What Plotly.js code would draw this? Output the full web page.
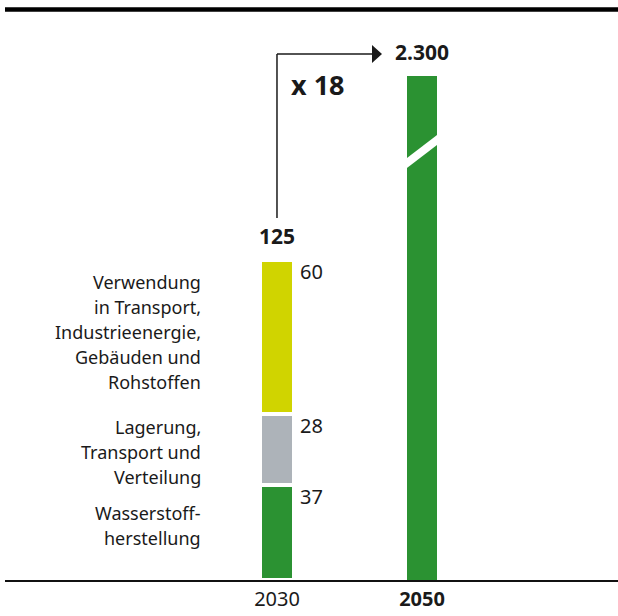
<!DOCTYPE html>
<html>
<head>
<meta charset="utf-8">
<script src="https://cdn.plot.ly/plotly-3.0.1.min.js"></script>
<style>html,body{margin:0;padding:0;background:#fff;}#chart{width:618px;height:616px;}</style>
</head>
<body>
<div id="chart"></div>
<script>
// ---- data ----
const years = ['2030', '2050'];
const tickLabels = ['2030', '<b>2050</b>'];
const segmentNames = [
  'Wasserstoff-<br>herstellung',
  'Lagerung,<br>Transport und<br>Verteilung',
  'Verwendung<br>in Transport,<br>Industrieenergie,<br>Gebäuden und<br>Rohstoffen'
];
const segment2030 = [37, 28, 60];
const segmentColors = ['#2b9232', '#adb3b9', '#d0d400'];
const total2050 = 2300;
const factorLabel = 'x 18';

// ---- style ----
const FONT = '"Noto Sans", Lato, sans-serif';
const TXT = '#1a1a1a';
const LINE_GAP = 25;              // px between label lines
const labelShift = [7, -2.5, 5];  // px vertical nudge of each label block

const fmtDE = v => String(v).replace(/\B(?=(\d{3})+(?!\d))/g, '.');
const total2030 = segment2030.reduce((a, b) => a + b, 0);
const i2030 = years.indexOf('2030');   // category serial numbers for annotations
const i2050 = years.indexOf('2050');

const traces = [];
const annotations = [];
let base = 0;
segment2030.forEach((v, i) => {
  traces.push({
    type: 'bar', x: [years[i2030]], y: [v], xaxis: 'x', yaxis: 'y',
    width: 0.2345,
    marker: { color: segmentColors[i], line: { color: '#ffffff', width: 4 } },
    hoverinfo: 'skip'
  });
  annotations.push({
    x: i2030, y: base + v, xref: 'x', yref: 'y',
    text: String(v), showarrow: false, xanchor: 'left', yanchor: 'top',
    xshift: 21, yshift: 4,
    font: { family: FONT, size: 20, color: TXT }
  });
  const lines = segmentNames[i].split('<br>');
  const n = lines.length;
  lines.forEach((ln, k) => {
    annotations.push({
      x: i2030, y: base + v / 2, xref: 'x', yref: 'y',
      text: ln, showarrow: false, xanchor: 'right', yanchor: 'middle',
      align: 'right', xshift: -74,
      yshift: labelShift[i] + ((n - 1) / 2 - k) * LINE_GAP,
      font: { family: FONT, size: 18, color: TXT }
    });
  });
  base += v;
});
// 2050 bar, drawn on lower and upper (broken) axis
['y', 'y2'].forEach(ax => {
  traces.push({
    type: 'bar', x: [years[i2050]], y: [total2050], xaxis: 'x', yaxis: ax,
    width: 0.2069,
    marker: { color: segmentColors[0], line: { width: 0 } },
    hoverinfo: 'skip'
  });
});

annotations.push({
  x: i2030, y: total2030, xref: 'x', yref: 'y',
  text: '<b>' + fmtDE(total2030) + '</b>', showarrow: false,
  xanchor: 'center', yanchor: 'bottom', yshift: 8,
  font: { family: FONT, size: 21, color: TXT }
});
annotations.push({
  x: i2050, y: total2050, xref: 'x', yref: 'y2',
  text: '<b>' + fmtDE(total2050) + '</b>', showarrow: false,
  xanchor: 'center', yanchor: 'bottom', yshift: 8,
  font: { family: FONT, size: 21, color: TXT }
});
annotations.push({
  x: 0.5106, y: 0.855, xref: 'paper', yref: 'paper',
  text: '<b>' + factorLabel + '</b>', showarrow: false,
  xanchor: 'center', yanchor: 'middle',
  font: { family: FONT, size: 27, color: TXT }
});

const shapes = [
  // top rule
  { type: 'line', xref: 'paper', yref: 'paper', x0: 0, x1: 1, y0: 0.9836, y1: 0.9836,
    line: { color: '#000', width: 4.5 } },
  // elbow arrow
  { type: 'line', xref: 'paper', yref: 'paper', x0: 0.4437, x1: 0.4437, y0: 0.6241, y1: 0.9069,
    line: { color: TXT, width: 1.5 } },
  { type: 'line', xref: 'paper', yref: 'paper', x0: 0.4437, x1: 0.6003, y0: 0.9069, y1: 0.9069,
    line: { color: TXT, width: 1.5 } },
  { type: 'path', xref: 'paper', yref: 'paper',
    path: 'M 0.5987,0.9224 L 0.6150,0.9069 L 0.5987,0.8914 Z',
    fillcolor: TXT, line: { width: 0 } },
  // break slash
  { type: 'line', xref: 'paper', yref: 'paper', x0: 0.6411, y0: 0.7071, x1: 0.7194, y1: 0.7705,
    line: { color: '#ffffff', width: 8 } }
];

const hiddenY = { showgrid: false, zeroline: false, showline: false, showticklabels: false,
                  ticks: '', fixedrange: true };
const layout = {
  width: 618, height: 616,
  margin: { l: 5, r: 0, t: 0, b: 36 },
  paper_bgcolor: '#fff', plot_bgcolor: '#fff',
  showlegend: false, barmode: 'stack',
  font: { family: FONT, color: TXT },
  xaxis: {
    type: 'category', categoryorder: 'array', categoryarray: years,
    range: [-1.8759, 2.3517], anchor: 'y',
    tickvals: years, ticktext: tickLabels, ticks: '',
    showline: true, linecolor: '#111', linewidth: 1.5,
    showgrid: false, zeroline: false,
    tickfont: { family: FONT, size: 20, color: TXT }, fixedrange: true
  },
  yaxis: Object.assign({ domain: [0, 0.7379], range: [0, 167.19], anchor: 'x' }, hiddenY),
  yaxis2: Object.assign({ domain: [0.7379, 1], range: [2270.31, 2329.69], anchor: 'x' }, hiddenY),
  annotations: annotations,
  shapes: shapes
};

Plotly.newPlot('chart', traces, layout, { staticPlot: true, displayModeBar: false });
</script>
</body>
</html>
